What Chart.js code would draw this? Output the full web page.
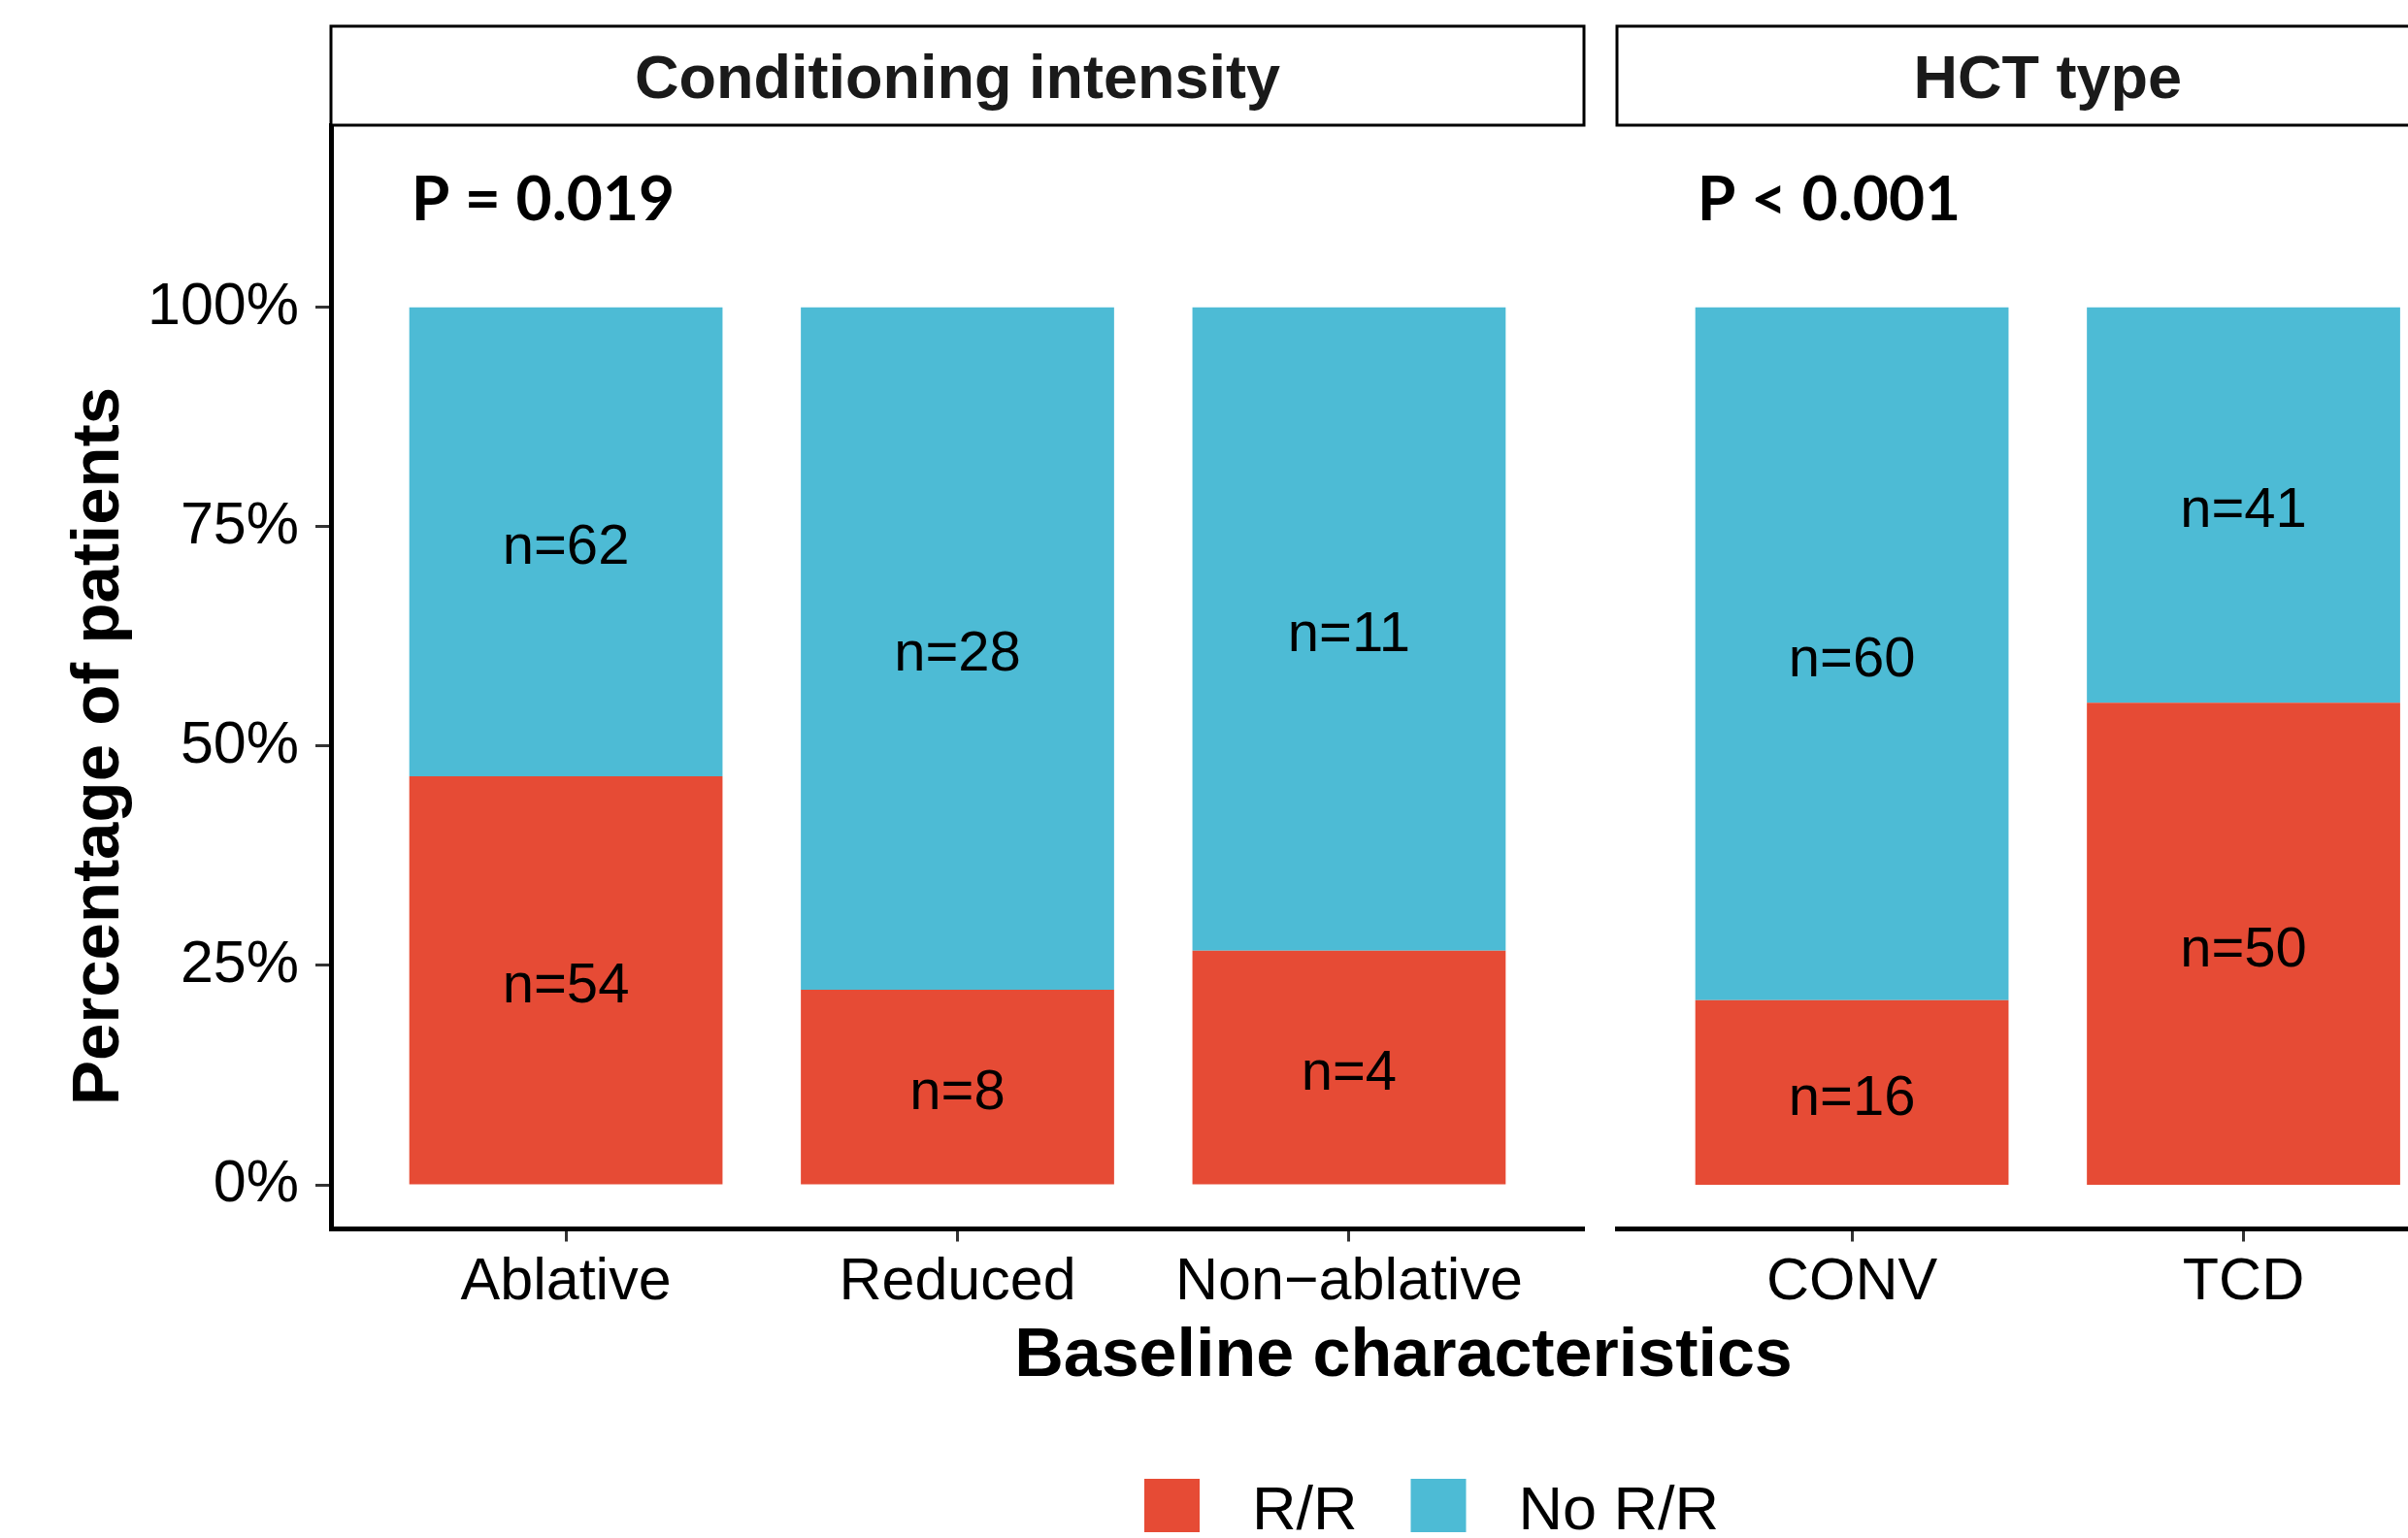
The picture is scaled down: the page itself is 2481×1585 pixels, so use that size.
<!DOCTYPE html>
<html>
<head>
<meta charset="utf-8">
<script src="https://cdn.jsdelivr.net/npm/chart.js@4.4.1/dist/chart.umd.min.js"></script>
<style>
  html, body { margin: 0; padding: 0; background: #fff; overflow: hidden; }
  #wrap { position: relative; width: 2481px; height: 1585px; overflow: hidden; background: #fff; }
  canvas { position: absolute; left: 0; top: 0; }
</style>
</head>
<body>
<div id="wrap">
  <canvas id="leftChart" width="2481" height="1585"></canvas>
  <canvas id="rightChart" width="2600" height="1585"></canvas>
</div>
<script>
// data (patient counts per group)
const conditioningLabels = ["Ablative", "Reduced", "Non\u2212ablative"];
const conditioningRR = [54, 8, 4];
const conditioningNoRR = [62, 28, 11];

const hctLabels = ["CONV", "TCD"];
const hctRR = [16, 50];
const hctNoRR = [60, 41];

const yTicks = [0, 25, 50, 75, 100];
const seriesNames = ["R/R", "No R/R"];
const seriesColors = ["#E64B35", "#4DBBD5"];
const stripTitles = ["Conditioning intensity", "HCT type"];
const pValues = ["P = 0.019", "P < 0.001"];

const FONT = '"Liberation Sans", Arial, Helvetica, sans-serif';

// strips, p-values, n= labels, shared titles and legend
const facetPlugin = {
  id: "facetDecor",
  afterDatasetsDraw(chart) {
    const ctx = chart.ctx;
    ctx.save();
    ctx.fillStyle = "#000";
    ctx.font = "58px " + FONT;
    ctx.textAlign = "center";
    ctx.textBaseline = "middle";
    chart.data.datasets.forEach((ds, di) => {
      chart.getDatasetMeta(di).data.forEach((bar, i) => {
        const c = bar.getCenterPoint();
        ctx.fillText("n=" + ds.counts[i], c.x, c.y + 7);
      });
    });
    ctx.restore();
  },
  afterDraw(chart, args, opts) {
    const ctx = chart.ctx;
    const a = chart.chartArea;
    const x = chart.scales.x, y = chart.scales.y;
    ctx.save();

    // facet strip
    const stripTop = 27;
    ctx.fillStyle = "#fff";
    ctx.fillRect(a.left, stripTop, a.right - a.left, a.top - stripTop);
    ctx.strokeStyle = "#000";
    ctx.lineWidth = 3;
    ctx.strokeRect(a.left, stripTop, a.right - a.left, a.top - stripTop);
    ctx.fillStyle = "#1a1a1a";
    ctx.font = "bold 63px " + FONT;
    ctx.textAlign = "center";
    ctx.textBaseline = "alphabetic";
    ctx.fillText(opts.strip, (a.left + a.right) / 2, 101);

    // p-value
    ctx.fillStyle = "#000";
    ctx.font = "bold 64px Lato, " + FONT;
    ctx.textAlign = "left";
    ctx.fillText(opts.pValue, x.getPixelForValue(-0.395), y.getPixelForValue(109.9));

    if (opts.main) {
      // y title
      ctx.save();
      ctx.translate(122, 769);
      ctx.rotate(-Math.PI / 2);
      ctx.font = "bold 69px " + FONT;
      ctx.textAlign = "center";
      ctx.fillText("Percentage of patients", 0, 0);
      ctx.restore();

      // x title, centred on the whole facet row
      ctx.font = "bold 70px " + FONT;
      ctx.textAlign = "center";
      ctx.fillText("Baseline characteristics", 1446, 1418);

      // legend
      ctx.font = "63px " + FONT;
      ctx.textAlign = "left";
      let lx = 1179;
      seriesNames.forEach((name, i) => {
        ctx.fillStyle = seriesColors[i];
        ctx.fillRect(lx, 1524, 57, 55);
        lx += 57 + 54;
        ctx.fillStyle = "#000";
        ctx.fillText(name, lx, 1576);
        lx += ctx.measureText(name).width + 55;
      });
    }
    ctx.restore();
  }
};

function toPercent(part, other) {
  return part.map((v, i) => 100 * v / (v + other[i]));
}

function makeFacet(id, labels, rr, noRR, cfg) {
  const rrPct = toPercent(rr, noRR);
  const noPct = toPercent(noRR, rr);
  const gridCfg = {
    display: true,
    offset: false,
    drawOnChartArea: false,
    drawTicks: true,
    tickWidth: 3,
    tickColor: "#333"
  };
  return new Chart(document.getElementById(id), {
    type: "bar",
    data: {
      datasets: [
        { label: seriesNames[0], data: rrPct.map((v, i) => ({ x: i, y: v })), counts: rr,
          backgroundColor: seriesColors[0], borderWidth: 0 },
        { label: seriesNames[1], data: noPct.map((v, i) => ({ x: i, y: v })), counts: noRR,
          backgroundColor: seriesColors[1], borderWidth: 0 }
      ]
    },
    options: {
      responsive: false,
      animation: false,
      events: [],
      categoryPercentage: 1,
      barPercentage: 0.8,
      layout: { padding: { left: cfg.padLeft, right: cfg.padRight, top: 129, bottom: 0 } },
      plugins: {
        legend: { display: false },
        tooltip: { enabled: false },
        facetDecor: { strip: cfg.strip, pValue: cfg.pValue, main: cfg.main }
      },
      scales: {
        x: {
          type: "linear",
          offset: false,
          stacked: true,
          min: -0.6,
          max: labels.length - 0.4,
          afterBuildTicks: s => { s.ticks = labels.map((_, i) => ({ value: i })); },
          afterFit: s => { s.height = 1585 - 1266.5; },
          ticks: {
            callback: v => labels[v],
            font: { family: FONT, size: 61 },
            color: "#000",
            padding: 6,
            maxRotation: 0,
            autoSkip: false
          },
          grid: Object.assign({ tickLength: 13 }, gridCfg),
          border: { display: true, color: "#000", width: 5 }
        },
        y: {
          stacked: true,
          display: cfg.main,
          min: -5.03,
          max: 120.76,
          afterBuildTicks: s => { s.ticks = yTicks.map(v => ({ value: v })); },
          afterFit: s => { s.width = cfg.main ? 341 : 0; },
          ticks: {
            callback: v => v + "%",
            font: { family: FONT, size: 61 },
            color: "#000",
            padding: 17
          },
          grid: Object.assign({ tickLength: 16 }, gridCfg),
          border: { display: true, color: "#000", width: 5 }
        }
      }
    },
    plugins: [facetPlugin]
  });
}

makeFacet("leftChart", conditioningLabels, conditioningRR, conditioningNoRR,
  { padLeft: 0, padRight: 2481 - 1632, strip: stripTitles[0], pValue: pValues[0], main: true });
makeFacet("rightChart", hctLabels, hctRR, hctNoRR,
  { padLeft: 1666, padRight: 2600 - 2553.6, strip: stripTitles[1], pValue: pValues[1], main: false });
</script>
</body>
</html>
